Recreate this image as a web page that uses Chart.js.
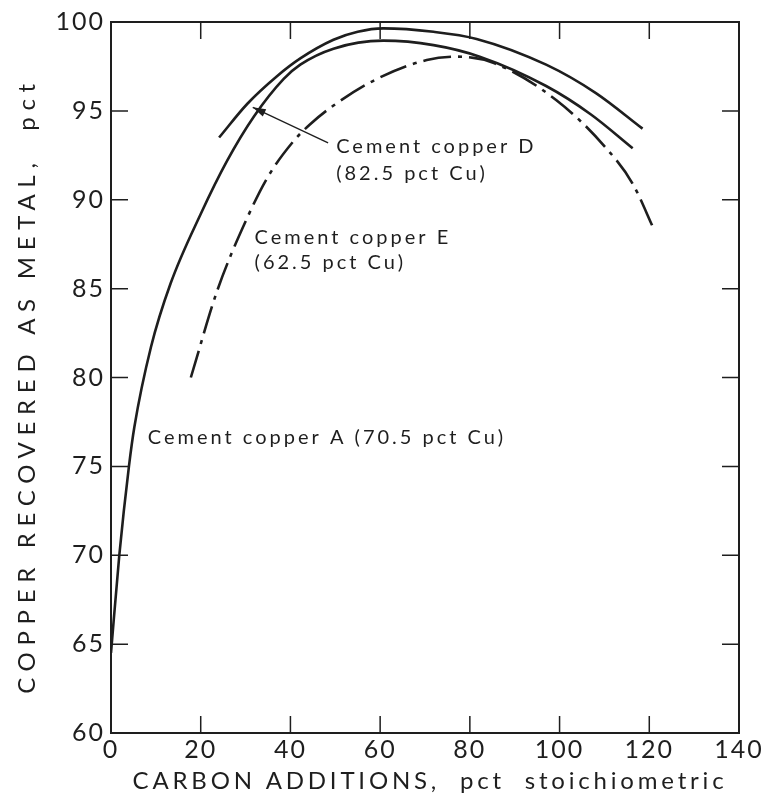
<!DOCTYPE html>
<html>
<head>
<meta charset="utf-8">
<script src="https://cdn.jsdelivr.net/npm/chart.js@4/dist/chart.umd.min.js"></script>
<style>
  html, body { margin: 0; padding: 0; background: #fff; }
  #wrap { width: 768px; height: 803px; }
</style>
</head>
<body>
<div id="wrap"><canvas id="recoveryChart" width="768" height="803"></canvas></div>
<script>
// Data //

// Cement copper A (70.5 pct Cu) - long solid curve from the origin
const copperAX = [0, 1.85, 4, 5.2, 8.9, 13.3, 20, 25.9, 31.9, 38.5, 42.2, 49.6, 60.7, 71.9, 82.2, 97, 107, 116.3];
const copperAY = [64.5, 70, 75, 77.2, 81.7, 85.3, 89.2, 92.2, 94.7, 96.8, 97.6, 98.5, 98.95, 98.7, 98.05, 96.4, 94.8, 92.9];

// Cement copper D (82.5 pct Cu) - short solid curve on top
const copperDX = [24.1, 30.4, 37, 42.2, 49.6, 55, 60.7, 71.9, 81.5, 97, 108.1, 118.5];
const copperDY = [93.5, 95.4, 96.95, 97.95, 99.0, 99.45, 99.64, 99.45, 99.05, 97.6, 96, 94.0];

// Cement copper E (62.5 pct Cu) - dash-dot curve
const copperEX = [17.8, 23.7, 30.4, 35, 40.7, 44.4, 49.6, 59.3, 70.4, 77, 85.2, 99.3, 110.4, 116.3, 121.1];
const copperEY = [80, 84.9, 89.0, 91.3, 93.3, 94.25, 95.3, 96.8, 97.86, 98.05, 97.7, 95.6, 92.9, 90.9, 88.3];

const xTicks = [0, 20, 40, 60, 80, 100, 120, 140];
const yTicks = [60, 65, 70, 75, 80, 85, 90, 95, 100];

const xTitle = 'CARBON ADDITIONS,  pct  stoichiometric';
const yTitle = 'COPPER RECOVERED AS METAL,  pct';

// labels written on the plot, in data units
const curveLabels = [
  { text: 'Cement copper D', x: 50.2, y: 93.0 },
  { text: '(82.5 pct Cu)', x: 50.2, y: 91.45 },
  { text: 'Cement copper E', x: 32, y: 87.9 },
  { text: '(62.5 pct Cu)', x: 32, y: 86.45 },
  { text: 'Cement copper A (70.5 pct Cu)', x: 8.2, y: 76.6 }
];
const arrowFrom = { x: 48.4, y: 93.2 };
const arrowTo = { x: 31.6, y: 95.2 };

const ink = '#1e1e1e';
const fontFamily = "Lato, 'Liberation Sans', sans-serif";

function toPoints(xs, ys) {
  return xs.map((x, i) => ({ x: x, y: ys[i] }));
}

// draws the inward ticks, the top/right frame, axis titles and the curve labels
const framePlugin = {
  id: 'frame',
  beforeDraw(chart) {
    chart.ctx.letterSpacing = '2px';
  },
  afterDraw(chart) {
    const { ctx, chartArea: area, scales } = chart;
    const xs = scales.x, ys = scales.y;
    ctx.save();
    ctx.strokeStyle = ink;
    ctx.lineWidth = 2;
    ctx.beginPath();
    ctx.moveTo(area.left, area.top);
    ctx.lineTo(area.right, area.top);
    ctx.lineTo(area.right, area.bottom);
    ctx.stroke();

    ctx.lineWidth = 1.5;
    ctx.beginPath();
    xTicks.slice(1, -1).forEach(v => {
      const px = xs.getPixelForValue(v);
      ctx.moveTo(px, area.bottom);
      ctx.lineTo(px, area.bottom - 17);
      ctx.moveTo(px, area.top);
      ctx.lineTo(px, area.top + 17);
    });
    yTicks.slice(1, -1).forEach(v => {
      const py = ys.getPixelForValue(v);
      ctx.moveTo(area.left, py);
      ctx.lineTo(area.left + 17, py);
      ctx.moveTo(area.right, py);
      ctx.lineTo(area.right - 17, py);
    });
    ctx.stroke();

    // arrow for copper D
    const x0 = xs.getPixelForValue(arrowFrom.x), y0 = ys.getPixelForValue(arrowFrom.y);
    const x1 = xs.getPixelForValue(arrowTo.x), y1 = ys.getPixelForValue(arrowTo.y);
    ctx.lineWidth = 1.3;
    ctx.beginPath();
    ctx.moveTo(x0, y0);
    ctx.lineTo(x1, y1);
    ctx.stroke();
    const ang = Math.atan2(y1 - y0, x1 - x0);
    ctx.fillStyle = ink;
    ctx.beginPath();
    ctx.moveTo(x1, y1);
    ctx.lineTo(x1 - 13 * Math.cos(ang) + 4 * Math.sin(ang), y1 - 13 * Math.sin(ang) - 4 * Math.cos(ang));
    ctx.lineTo(x1 - 13 * Math.cos(ang) - 4 * Math.sin(ang), y1 - 13 * Math.sin(ang) + 4 * Math.cos(ang));
    ctx.closePath();
    ctx.fill();

    ctx.font = '20px ' + fontFamily;
    ctx.letterSpacing = '3px';
    ctx.textAlign = 'left';
    ctx.textBaseline = 'middle';
    curveLabels.forEach(l => {
      ctx.fillText(l.text, xs.getPixelForValue(l.x), ys.getPixelForValue(l.y));
    });

    // axis titles
    ctx.font = '24px ' + fontFamily;
    ctx.textAlign = 'center';
    ctx.letterSpacing = '3.8px';
    ctx.fillText(xTitle, (area.left + area.right) / 2 + 5, chart.height - 22);

    ctx.letterSpacing = '6.7px';
    ctx.translate(27, (area.top + area.bottom) / 2 + 8);
    ctx.rotate(-Math.PI / 2);
    ctx.fillText(yTitle, 0, 0);
    ctx.restore();
  }
};

const lineStyle = {
  borderColor: ink,
  borderWidth: 2.6,
  pointRadius: 0,
  fill: false,
  cubicInterpolationMode: 'monotone'
};

const ctx = document.querySelector('#recoveryChart').getContext('2d');
const recoveryChart = new Chart(ctx, {
  type: 'line',
  data: {
    datasets: [
      Object.assign({ label: 'Cement copper A', data: toPoints(copperAX, copperAY) }, lineStyle),
      Object.assign({ label: 'Cement copper D', data: toPoints(copperDX, copperDY) }, lineStyle),
      Object.assign({ label: 'Cement copper E', data: toPoints(copperEX, copperEY), borderDash: [28, 7, 4, 7] }, lineStyle)
    ]
  },
  options: {
    responsive: false,
    animation: false,
    layout: { padding: { top: 22, right: 29, left: 0, bottom: 0 } },
    plugins: {
      legend: { display: false },
      tooltip: { enabled: false }
    },
    scales: {
      x: {
        type: 'linear',
        min: 0,
        max: 140,
        afterBuildTicks: s => { s.ticks = xTicks.map(v => ({ value: v })); },
        afterFit: s => { s.height = 70; },
        grid: { display: false, drawTicks: false },
        border: { display: true, color: ink, width: 2 },
        ticks: { color: ink, padding: 2, autoSkip: false, maxRotation: 0, font: { family: fontFamily, size: 25 } },
        title: { display: false }
      },
      y: {
        min: 60,
        max: 100,
        afterBuildTicks: s => { s.ticks = yTicks.map(v => ({ value: v })); },
        afterFit: s => { s.width = 111; },
        grid: { display: false, drawTicks: false },
        border: { display: true, color: ink, width: 2 },
        ticks: { color: ink, padding: 6, font: { family: fontFamily, size: 25 } },
        title: { display: false }
      }
    }
  },
  plugins: [framePlugin]
});
</script>
</body>
</html>
